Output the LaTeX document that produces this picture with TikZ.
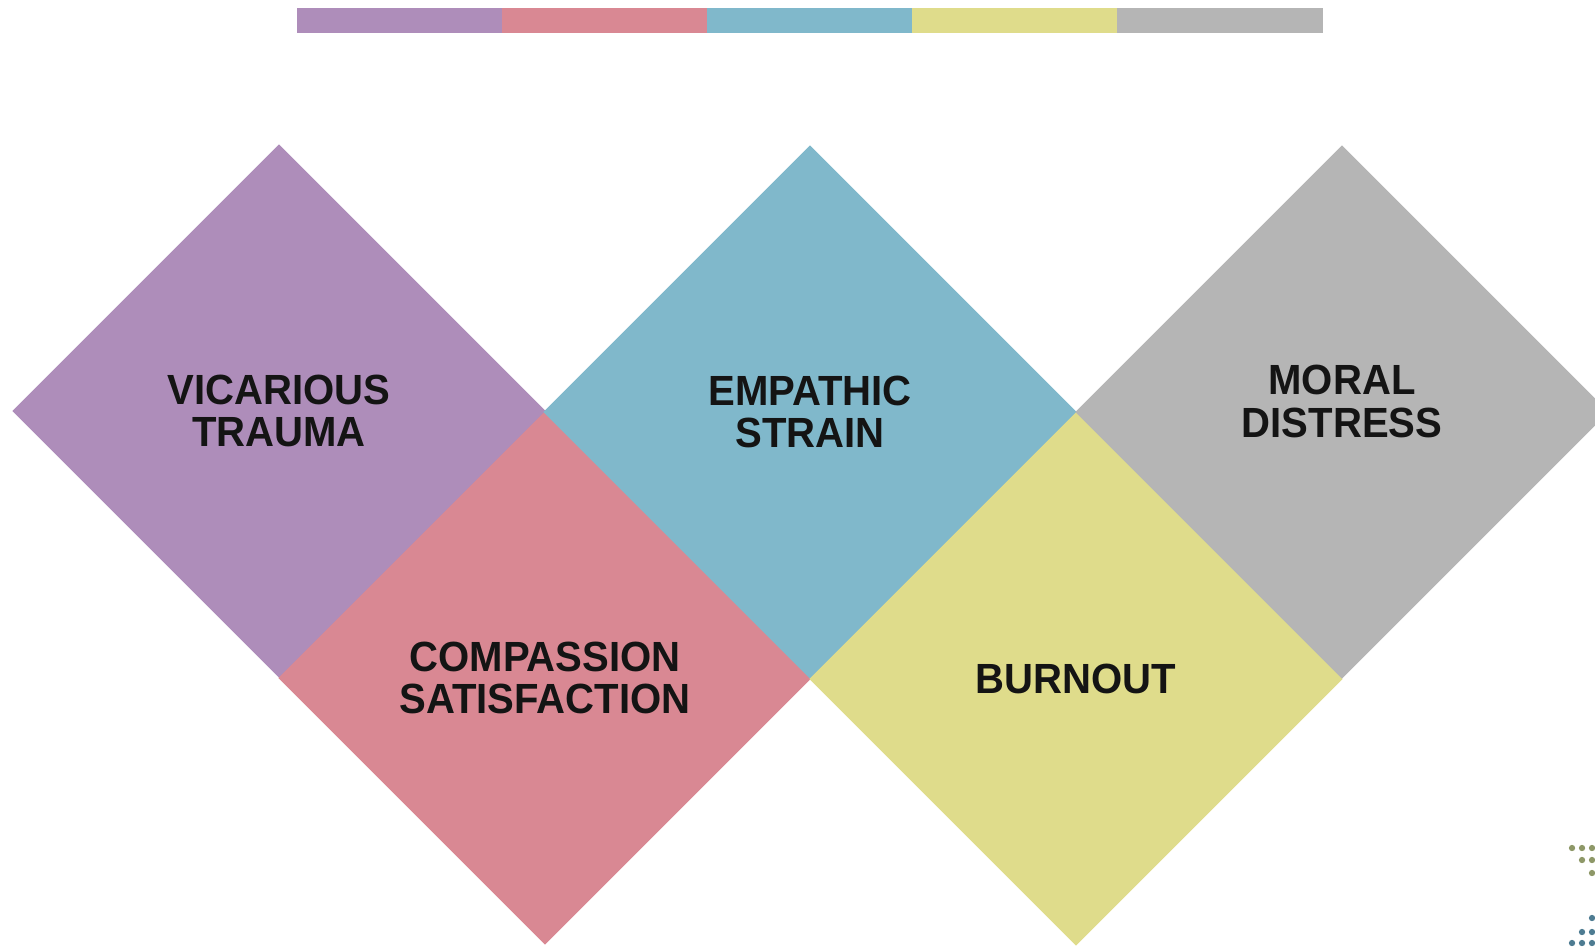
\documentclass[tikz,border=0pt]{standalone}
\usepackage{fontspec}
\setmainfont[FakeStretch=0.95]{Liberation Sans}
\usepackage{xcolor}
\usetikzlibrary{positioning,shapes.geometric}
\definecolor{tilepurple}{HTML}{AE8DBA}
\definecolor{tilepink}{HTML}{D98893}
\definecolor{tileblue}{HTML}{80B8CB}
\definecolor{tileyellow}{HTML}{DFDC8B}
\definecolor{tilegray}{HTML}{B5B5B5}
\definecolor{dotolive}{HTML}{8E9868}
\definecolor{dotteal}{HTML}{4E7C92}
\tikzset{
  tile/.style={diamond, aspect=1, inner sep=0pt, outer sep=0pt, minimum width=5.33cm, minimum height=5.33cm, align=center, text=black!92, font=\bfseries\fontsize{12}{12.2}\selectfont},
  swatch/.style={rectangle, inner sep=0pt, outer sep=0pt, minimum width=2.05cm, minimum height=0.25cm}
}

\begin{document}
\begin{tikzpicture}[x=0.01cm, y=-0.01cm]
  \useasboundingbox (0,0) rectangle (1595,951);

  % colour key along the top
  \node[swatch, fill=tilepurple] (key1) at (399.5,20.5) {};
  \node[swatch, fill=tilepink, right=0pt of key1] (key2) {};
  \node[swatch, fill=tileblue, right=0pt of key2] (key3) {};
  \node[swatch, fill=tileyellow, right=0pt of key3] (key4) {};
  \node[swatch, fill=tilegray, right=0pt of key4] (key5) {};

  % the five tiles, corner to corner
  \node[tile, fill=tilepurple] (vicarious) at (279,411) {VICARIOUS\\TRAUMA};
  \node[tile, fill=tilepink] (compassion) at (545,678) {COMPASSION\\SATISFACTION};
  \node[tile, fill=tileblue] (empathic) at (810,412) {EMPATHIC\\STRAIN};
  \node[tile, fill=tileyellow] (burnout) at (1076,679) {BURNOUT};
  \node[tile, fill=tilegray] (moral) at (1342,412) {MORAL\\DISTRESS\\[-6pt]\mbox{}};

  % dots in the lower right corner
  \foreach \px/\py in {1572/848, 1582/848, 1592/848, 1582/860, 1592/860, 1592/873}
    \fill[dotolive] (\px,\py) circle (0.9pt);
  \foreach \px/\py in {1592/918, 1582/932, 1592/932, 1572/943, 1582/943, 1592/943}
    \fill[dotteal] (\px,\py) circle (0.9pt);
\end{tikzpicture}
\end{document}
